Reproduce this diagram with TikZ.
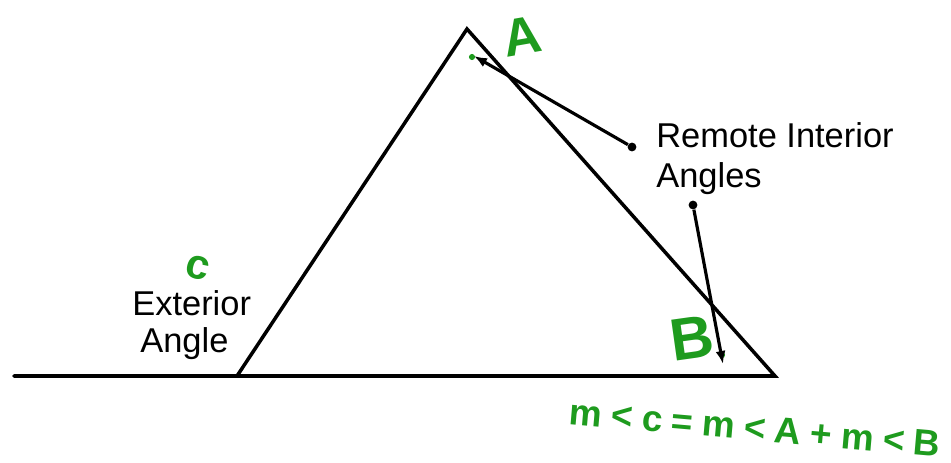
\documentclass[tikz,border=0pt]{standalone}
\usepackage{fontspec}
\setmainfont{Liberation Sans}
\newfontfamily\handfont[LetterSpace=25]{Liberation Sans}
\usetikzlibrary{arrows.meta,positioning}
\definecolor{hwgreen}{RGB}{30,155,30}
\tikzset{
  geoline/.style={line width=2pt, black, line cap=round},
  parr/.style={-{Latex[length=2.6mm,width=2mm]}, line width=1.8pt, black},
  ptdot/.style={circle, fill=black, inner sep=0pt, minimum size=5pt},
  tipdot/.style={circle, fill=hwgreen, inner sep=0pt, minimum size=3.5pt},
  lbl/.style={font=\fontsize{19.6}{22.7}\selectfont, inner sep=0pt},
  hwtxt/.style={text=hwgreen, inner sep=0pt},
}

\begin{document}
\begin{tikzpicture}[x=0.02cm,y=-0.02cm]
    \useasboundingbox (0,0) rectangle (951,463);
    \coordinate (lend) at (14,376);
    \coordinate (vC) at (237,376);
    \coordinate (vA) at (467,29);
    \coordinate (vB) at (775,376);
    \draw[geoline] (lend) -- (vB) -- (vA) -- (vC);
    % labels
    \node[lbl,anchor=base west] (rem) at (656,147) {Remote Interior};
    \node[lbl,anchor=base west] (remb) at (656,187) {Angles};
    \node[lbl,anchor=base west] (ext) at (132,315) {Exterior};
    \node[lbl,anchor=base west] (extb) at (140,352) {Angle};
    % pointers
    \node[ptdot] (pa) at (632,147) {};
    \node[ptdot] (pb) at (693,205) {};
    \node[tipdot] (ta) at (472,57) {};
    \node[tipdot] (tb) at (722,355) {};
    \draw[parr] (pa) -- (474,56);
    \draw[parr] (pb) -- (723,364);
    % green handwriting
    \node[hwtxt,font=\bfseries\fontsize{30}{30}\selectfont,rotate=10] (hA) at (522,36) {A};
    \node[hwtxt,font=\bfseries\fontsize{34}{34}\selectfont,rotate=8] (hB) at (692,338) {B};
    \node[hwtxt,font=\bfseries\fontsize{24}{24}\selectfont,rotate=-15] (hC) at (198,268) {c};
    \node[hwtxt,font=\handfont\bfseries\fontsize{21}{21}\selectfont,rotate=-5] (eq) at (755,428) {m<c=m<A+m<B};
\end{tikzpicture}
\end{document}
